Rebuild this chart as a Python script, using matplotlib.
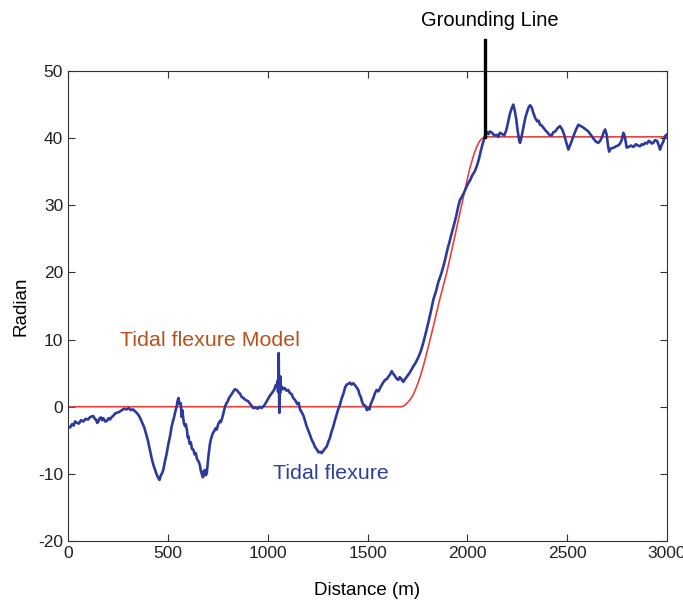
import matplotlib
matplotlib.use('Agg')
import matplotlib.pyplot as plt
import matplotlib.transforms as mtransforms

plt.rcParams['font.family'] = ['Liberation Sans', 'DejaVu Sans']
plt.rcParams['axes.unicode_minus'] = False

flex_points = [
    (0, -2.9), (10, -3.1), (20, -2.6), (28, -2.8), (35, -2.2), (45, -2.4), (55, -2.5),
    (65, -2.0), (77, -2.2), (88, -1.8), (100, -1.9), (112, -1.5), (127, -1.4), (134, -1.8),
    (140, -1.9), (146, -2.4), (152, -2.2), (158, -1.7), (165, -1.6), (171, -2.0), (177, -1.7),
    (186, -2.2), (195, -2.1), (203, -1.7), (210, -1.9), (220, -1.5), (228, -1.3), (236, -1.0),
    (244, -0.9), (255, -0.8), (265, -0.6), (280, -0.3), (294, -0.4), (305, -0.2), (315, -0.5),
    (326, -0.4), (336, -0.7), (344, -0.9), (352, -1.2), (360, -1.6), (369, -2.2), (382, -3.1),
    (394, -4.4), (400, -5.0), (406, -5.9), (413, -6.8), (419, -7.7), (428, -8.7), (436, -9.4),
    (444, -10.1), (452, -10.6), (458, -10.9), (465, -10.2), (471, -9.9), (477, -9.4),
    (485, -8.2), (494, -7.0), (502, -5.6), (511, -4.4), (518, -3.1), (524, -2.3), (530, -1.7),
    (536, -0.9), (545, 0.2), (549, 0.9), (553, 1.3), (557, 0.4), (560, 0.6), (565, 0.5),
    (569, -1.5), (572, -0.5), (575, -1.2), (580, -2.4), (586, -2.9), (590, -2.6), (595, -3.4),
    (600, -4.6), (603, -4.4), (609, -5.5), (615, -5.3), (621, -6.3), (628, -6.4), (634, -7.1),
    (640, -6.9), (646, -7.8), (653, -8.1), (657, -8.4), (661, -8.8), (665, -9.5), (669, -9.9),
    (673, -10.3), (676, -10.5), (680, -9.6), (686, -9.4), (690, -10.2), (695, -9.9),
    (699, -8.6), (703, -7.4), (707, -6.4), (711, -5.5), (716, -4.8), (720, -4.4), (726, -3.9),
    (733, -3.6), (739, -3.2), (745, -3.4), (752, -2.6), (761, -2.1), (765, -2.3), (770, -1.9),
    (778, -1.0), (786, 0.0), (793, 0.5), (800, 0.8), (806, 1.3), (811, 1.5), (820, 1.9),
    (828, 2.3), (836, 2.6), (845, 2.5), (852, 2.2), (860, 2.0), (869, 1.5), (878, 1.3),
    (890, 1.0), (903, 0.8), (915, 0.3), (928, -0.2), (938, -0.1), (950, -0.3), (960, 0.0),
    (970, -0.2), (983, 0.2), (995, 0.8), (1008, 1.5), (1020, 2.0), (1032, 2.5), (1040, 3.2),
    (1045, 3.0), (1048, 3.8), (1052, 2.2), (1055, 8.0), (1057, 1.5), (1058, -0.9), (1060, 4.2),
    (1062, 2.0), (1064, 4.5), (1066, 2.5), (1070, 3.0), (1078, 2.6), (1085, 2.8), (1094, 2.4),
    (1103, 2.5), (1112, 2.0), (1120, 1.9), (1128, 1.3), (1137, 1.0), (1148, 0.4), (1155, 0.6),
    (1162, -0.4), (1170, -0.8), (1180, -1.4), (1188, -2.2), (1195, -2.9), (1204, -3.6),
    (1212, -4.2), (1220, -4.9), (1229, -5.4), (1237, -6.0), (1245, -6.3), (1254, -6.8),
    (1262, -6.7), (1270, -6.9), (1280, -6.5), (1288, -6.2), (1296, -5.9), (1304, -5.2),
    (1312, -4.6), (1320, -3.7), (1329, -2.9), (1337, -2.0), (1345, -1.2), (1353, -0.4),
    (1362, 0.3), (1370, 1.2), (1380, 2.0), (1388, 2.9), (1396, 3.3), (1404, 3.4), (1412, 3.6),
    (1420, 3.3), (1429, 3.5), (1440, 3.1), (1454, 2.5), (1460, 1.8), (1466, 1.5), (1472, 0.8),
    (1479, 0.3), (1490, 0.1), (1497, -0.5), (1504, -0.2), (1510, -0.4), (1515, 0.3),
    (1522, 0.8), (1529, 1.3), (1537, 2.0), (1546, 2.5), (1555, 2.3), (1565, 2.9), (1576, 3.5),
    (1588, 4.0), (1596, 4.1), (1605, 4.5), (1613, 4.8), (1621, 5.3), (1629, 4.9), (1637, 4.6),
    (1645, 4.2), (1654, 4.0), (1661, 4.4), (1668, 4.2), (1674, 3.9), (1679, 3.7), (1690, 4.2),
    (1700, 4.6), (1714, 5.2), (1729, 6.0), (1742, 6.6), (1755, 7.4), (1767, 8.3), (1779, 9.5),
    (1792, 11.0), (1805, 12.6), (1818, 14.3), (1830, 16.0), (1843, 17.2), (1855, 18.6),
    (1868, 19.7), (1880, 20.9), (1890, 22.1), (1900, 23.4), (1911, 24.6), (1922, 25.9),
    (1933, 27.1), (1945, 28.5), (1954, 29.8), (1963, 30.8), (1975, 31.4), (1985, 32.0),
    (1995, 32.7), (2005, 33.3), (2015, 33.8), (2025, 34.5), (2036, 35.0), (2047, 35.8),
    (2058, 36.9), (2068, 38.2), (2078, 39.3), (2088, 40.3), (2094, 40.6), (2100, 40.9),
    (2106, 40.6), (2113, 41.0), (2124, 40.8), (2135, 40.4), (2148, 40.5), (2155, 40.2),
    (2163, 40.8), (2175, 40.6), (2185, 40.4), (2195, 41.2), (2205, 42.5), (2212, 43.5),
    (2218, 44.1), (2224, 44.6), (2230, 45.0), (2238, 44.0), (2245, 42.8), (2250, 41.5),
    (2255, 40.6), (2260, 39.6), (2264, 39.3), (2270, 40.0), (2280, 41.5), (2290, 43.0),
    (2300, 44.0), (2307, 44.6), (2314, 44.9), (2322, 44.6), (2330, 43.8), (2340, 43.0),
    (2350, 42.5), (2357, 42.6), (2364, 42.0), (2372, 41.9), (2380, 41.6), (2390, 41.2),
    (2400, 40.9), (2411, 40.5), (2422, 40.4), (2431, 40.9), (2440, 41.0), (2452, 41.5),
    (2464, 41.8), (2475, 41.3), (2485, 40.5), (2495, 39.4), (2506, 38.3), (2518, 39.2),
    (2530, 40.2), (2543, 41.2), (2556, 42.0), (2568, 41.8), (2580, 41.6), (2593, 41.3),
    (2606, 41.0), (2618, 40.5), (2630, 40.0), (2643, 39.5), (2656, 39.3), (2665, 39.6),
    (2675, 40.2), (2683, 40.9), (2690, 41.3), (2698, 40.5), (2704, 39.0), (2710, 38.0),
    (2716, 38.4), (2723, 38.5), (2734, 38.6), (2745, 38.8), (2755, 38.9), (2765, 39.2),
    (2773, 39.7), (2781, 40.8), (2786, 40.5), (2790, 40.0), (2798, 38.6), (2808, 38.7),
    (2820, 38.9), (2832, 38.7), (2845, 39.1), (2855, 38.9), (2865, 38.8), (2873, 39.1),
    (2881, 39.0), (2890, 39.3), (2900, 39.2), (2908, 39.6), (2915, 39.5), (2923, 39.2),
    (2931, 39.3), (2940, 39.7), (2950, 39.6), (2958, 39.0), (2965, 38.3), (2972, 38.9),
    (2980, 39.4), (2990, 40.3), (2998, 40.5),
]
flex_x = [p[0] for p in flex_points]
flex_y = [p[1] for p in flex_points]

# Tidal flexure model
model_x = [0, 1671, 1685, 1700, 1715, 1729, 1742, 1755, 1767, 1779, 1805, 1830, 1860, 1896,
           1930, 1963, 1990, 2013, 2035, 2050, 2062, 2075, 2088, 3000]
model_y = [0.0, 0.0, 0.2, 0.6, 1.1, 1.8, 2.7, 3.7, 4.8, 6.0, 9.0, 12.0, 15.8, 19.9,
           24.4, 28.9, 32.6, 35.6, 37.8, 38.9, 39.6, 40.0, 40.2, 40.2]

grounding_x = 2088

fig = plt.figure(figsize=(6.83, 6.01), dpi=100)
ax = fig.add_axes([0.0996, 0.0998, 0.877, 0.782])

ax.plot(model_x, model_y, color='#e8423c', linewidth=1.2, zorder=2)
ax.plot(flex_x, flex_y, color='#2c3a9e', linewidth=1.9, zorder=3)

ax.set_xlim(0, 3000)
ax.set_ylim(-20, 50)
ax.set_xticks(range(0, 3001, 500))
ax.set_yticks(range(-20, 51, 10))
ax.tick_params(direction='in', top=True, right=True, length=5, labelsize=12.5,
               color='#333333', labelcolor='#222222')
for s in ax.spines.values():
    s.set_color('#333333')

ax.set_xlabel('Distance (m)', fontsize=13.5, labelpad=15)
ax.set_ylabel('Radian', fontsize=13.5, labelpad=6)

ax.text(260, 9.8, 'Tidal flexure Model', color='#b8501a', fontsize=15.4, va='center', ha='left')
ax.text(1025, -10, 'Tidal flexure', color='#2e3f96', fontsize=15.4, va='center', ha='left')

# Grounding line marker
trans = mtransforms.blended_transform_factory(ax.transData, ax.transAxes)
ax.plot([grounding_x, grounding_x], [(40.2 + 20) / 70, 1.066], color='black', linewidth=2.4,
        transform=trans, clip_on=False, zorder=4)
ax.text(2113, 1.108, 'Grounding Line', transform=trans, ha='center', va='center', fontsize=14.5)

fig.savefig('out.png', dpi=100)
